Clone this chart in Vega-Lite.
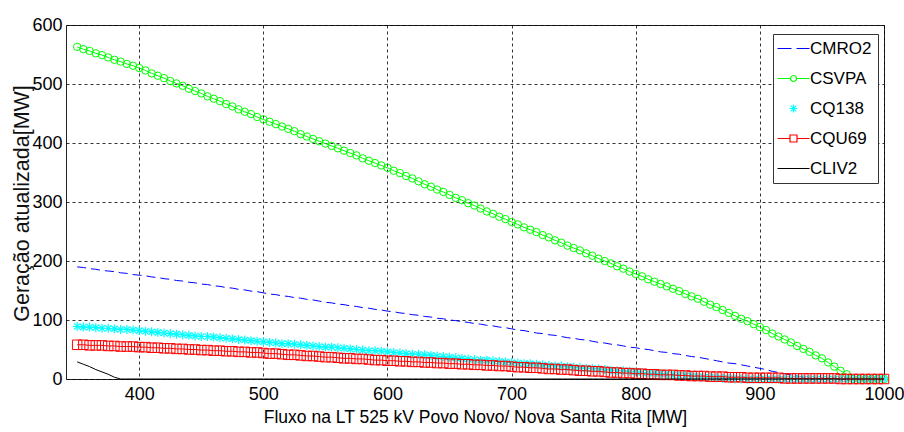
{
"$schema": "https://vega.github.io/schema/vega-lite/v6.json",
"width": 818, "height": 354,
"autosize": "none",
"padding": {"left": 66, "top": 25, "right": 20, "bottom": 53},
"background": "white",
"config": {"view": {"stroke": "#222", "strokeWidth": 1}},
"data": {"values": [
{"x":350,"CMRO2":190,"CSVPA":563,"CQ138":89,"CQU69":58,"CLIV2":29},
{"x":355,"CMRO2":189,"CSVPA":559,"CQ138":88,"CQU69":58,"CLIV2":25},
{"x":360,"CMRO2":187,"CSVPA":556,"CQ138":88,"CQU69":57,"CLIV2":21},
{"x":365,"CMRO2":186,"CSVPA":552,"CQ138":87,"CQU69":57,"CLIV2":16},
{"x":370,"CMRO2":184,"CSVPA":549,"CQ138":86,"CQU69":57,"CLIV2":12},
{"x":375,"CMRO2":183,"CSVPA":545,"CQ138":86,"CQU69":56,"CLIV2":8},
{"x":380,"CMRO2":182,"CSVPA":541,"CQ138":85,"CQU69":56,"CLIV2":3},
{"x":385,"CMRO2":180,"CSVPA":538,"CQ138":84,"CQU69":55,"CLIV2":0},
{"x":390,"CMRO2":179,"CSVPA":534,"CQ138":84,"CQU69":55,"CLIV2":0},
{"x":395,"CMRO2":177,"CSVPA":531,"CQ138":83,"CQU69":55,"CLIV2":0},
{"x":400,"CMRO2":176,"CSVPA":527,"CQ138":82,"CQU69":54,"CLIV2":0},
{"x":405,"CMRO2":175,"CSVPA":523,"CQ138":81,"CQU69":54,"CLIV2":0},
{"x":410,"CMRO2":173,"CSVPA":518,"CQ138":80,"CQU69":53,"CLIV2":0},
{"x":415,"CMRO2":172,"CSVPA":514,"CQ138":79,"CQU69":53,"CLIV2":0},
{"x":420,"CMRO2":170,"CSVPA":510,"CQ138":78,"CQU69":52,"CLIV2":0},
{"x":425,"CMRO2":169,"CSVPA":505,"CQ138":77,"CQU69":52,"CLIV2":0},
{"x":430,"CMRO2":167,"CSVPA":501,"CQ138":76,"CQU69":51,"CLIV2":0},
{"x":435,"CMRO2":166,"CSVPA":497,"CQ138":75,"CQU69":51,"CLIV2":0},
{"x":440,"CMRO2":164,"CSVPA":492,"CQ138":74,"CQU69":50,"CLIV2":0},
{"x":445,"CMRO2":163,"CSVPA":488,"CQ138":73,"CQU69":50,"CLIV2":0},
{"x":450,"CMRO2":161,"CSVPA":484,"CQ138":72,"CQU69":49,"CLIV2":0},
{"x":455,"CMRO2":160,"CSVPA":479,"CQ138":72,"CQU69":49,"CLIV2":0},
{"x":460,"CMRO2":158,"CSVPA":475,"CQ138":71,"CQU69":48,"CLIV2":0},
{"x":465,"CMRO2":157,"CSVPA":471,"CQ138":70,"CQU69":48,"CLIV2":0},
{"x":470,"CMRO2":155,"CSVPA":466,"CQ138":69,"CQU69":47,"CLIV2":0},
{"x":475,"CMRO2":154,"CSVPA":462,"CQ138":68,"CQU69":47,"CLIV2":0},
{"x":480,"CMRO2":152,"CSVPA":457,"CQ138":67,"CQU69":46,"CLIV2":0},
{"x":485,"CMRO2":151,"CSVPA":453,"CQ138":66,"CQU69":46,"CLIV2":0},
{"x":490,"CMRO2":149,"CSVPA":449,"CQ138":65,"CQU69":45,"CLIV2":0},
{"x":495,"CMRO2":148,"CSVPA":444,"CQ138":64,"CQU69":45,"CLIV2":0},
{"x":500,"CMRO2":146,"CSVPA":440,"CQ138":63,"CQU69":44,"CLIV2":0},
{"x":505,"CMRO2":144,"CSVPA":436,"CQ138":62,"CQU69":43,"CLIV2":0},
{"x":510,"CMRO2":143,"CSVPA":432,"CQ138":61,"CQU69":43,"CLIV2":0},
{"x":515,"CMRO2":141,"CSVPA":428,"CQ138":60,"CQU69":42,"CLIV2":0},
{"x":520,"CMRO2":140,"CSVPA":424,"CQ138":60,"CQU69":41,"CLIV2":0},
{"x":525,"CMRO2":138,"CSVPA":420,"CQ138":59,"CQU69":41,"CLIV2":0},
{"x":530,"CMRO2":137,"CSVPA":415,"CQ138":58,"CQU69":40,"CLIV2":0},
{"x":535,"CMRO2":135,"CSVPA":411,"CQ138":57,"CQU69":39,"CLIV2":0},
{"x":540,"CMRO2":134,"CSVPA":407,"CQ138":56,"CQU69":39,"CLIV2":0},
{"x":545,"CMRO2":132,"CSVPA":403,"CQ138":55,"CQU69":38,"CLIV2":0},
{"x":550,"CMRO2":130,"CSVPA":399,"CQ138":54,"CQU69":37,"CLIV2":0},
{"x":555,"CMRO2":129,"CSVPA":395,"CQ138":54,"CQU69":37,"CLIV2":0},
{"x":560,"CMRO2":127,"CSVPA":391,"CQ138":53,"CQU69":36,"CLIV2":0},
{"x":565,"CMRO2":126,"CSVPA":387,"CQ138":52,"CQU69":35,"CLIV2":0},
{"x":570,"CMRO2":124,"CSVPA":383,"CQ138":51,"CQU69":35,"CLIV2":0},
{"x":575,"CMRO2":123,"CSVPA":379,"CQ138":50,"CQU69":34,"CLIV2":0},
{"x":580,"CMRO2":121,"CSVPA":374,"CQ138":49,"CQU69":34,"CLIV2":0},
{"x":585,"CMRO2":120,"CSVPA":370,"CQ138":48,"CQU69":33,"CLIV2":0},
{"x":590,"CMRO2":118,"CSVPA":366,"CQ138":48,"CQU69":32,"CLIV2":0},
{"x":595,"CMRO2":117,"CSVPA":362,"CQ138":47,"CQU69":32,"CLIV2":0},
{"x":600,"CMRO2":115,"CSVPA":358,"CQ138":46,"CQU69":31,"CLIV2":0},
{"x":605,"CMRO2":114,"CSVPA":353,"CQ138":45,"CQU69":31,"CLIV2":0},
{"x":610,"CMRO2":112,"CSVPA":349,"CQ138":44,"CQU69":30,"CLIV2":0},
{"x":615,"CMRO2":111,"CSVPA":344,"CQ138":43,"CQU69":30,"CLIV2":0},
{"x":620,"CMRO2":109,"CSVPA":340,"CQ138":42,"CQU69":29,"CLIV2":0},
{"x":625,"CMRO2":108,"CSVPA":335,"CQ138":42,"CQU69":29,"CLIV2":0},
{"x":630,"CMRO2":106,"CSVPA":330,"CQ138":41,"CQU69":28,"CLIV2":0},
{"x":635,"CMRO2":105,"CSVPA":326,"CQ138":40,"CQU69":28,"CLIV2":0},
{"x":640,"CMRO2":103,"CSVPA":321,"CQ138":39,"CQU69":27,"CLIV2":0},
{"x":645,"CMRO2":102,"CSVPA":317,"CQ138":38,"CQU69":27,"CLIV2":0},
{"x":650,"CMRO2":100,"CSVPA":312,"CQ138":37,"CQU69":26,"CLIV2":0},
{"x":655,"CMRO2":99,"CSVPA":307,"CQ138":36,"CQU69":26,"CLIV2":0},
{"x":660,"CMRO2":97,"CSVPA":303,"CQ138":35,"CQU69":25,"CLIV2":0},
{"x":665,"CMRO2":96,"CSVPA":298,"CQ138":34,"CQU69":25,"CLIV2":0},
{"x":670,"CMRO2":94,"CSVPA":294,"CQ138":33,"CQU69":24,"CLIV2":0},
{"x":675,"CMRO2":93,"CSVPA":289,"CQ138":32,"CQU69":24,"CLIV2":0},
{"x":680,"CMRO2":91,"CSVPA":284,"CQ138":32,"CQU69":23,"CLIV2":0},
{"x":685,"CMRO2":90,"CSVPA":280,"CQ138":31,"CQU69":23,"CLIV2":0},
{"x":690,"CMRO2":88,"CSVPA":275,"CQ138":30,"CQU69":22,"CLIV2":0},
{"x":695,"CMRO2":87,"CSVPA":271,"CQ138":29,"CQU69":22,"CLIV2":0},
{"x":700,"CMRO2":85,"CSVPA":266,"CQ138":28,"CQU69":21,"CLIV2":0},
{"x":705,"CMRO2":83,"CSVPA":262,"CQ138":27,"CQU69":20,"CLIV2":0},
{"x":710,"CMRO2":82,"CSVPA":257,"CQ138":26,"CQU69":20,"CLIV2":0},
{"x":715,"CMRO2":80,"CSVPA":253,"CQ138":26,"CQU69":19,"CLIV2":0},
{"x":720,"CMRO2":78,"CSVPA":249,"CQ138":25,"CQU69":19,"CLIV2":0},
{"x":725,"CMRO2":77,"CSVPA":244,"CQ138":24,"CQU69":18,"CLIV2":0},
{"x":730,"CMRO2":75,"CSVPA":240,"CQ138":23,"CQU69":17,"CLIV2":0},
{"x":735,"CMRO2":74,"CSVPA":235,"CQ138":22,"CQU69":17,"CLIV2":0},
{"x":740,"CMRO2":72,"CSVPA":231,"CQ138":22,"CQU69":16,"CLIV2":0},
{"x":745,"CMRO2":70,"CSVPA":226,"CQ138":21,"CQU69":16,"CLIV2":0},
{"x":750,"CMRO2":69,"CSVPA":222,"CQ138":20,"CQU69":15,"CLIV2":0},
{"x":755,"CMRO2":67,"CSVPA":218,"CQ138":19,"CQU69":14,"CLIV2":0},
{"x":760,"CMRO2":66,"CSVPA":213,"CQ138":18,"CQU69":14,"CLIV2":0},
{"x":765,"CMRO2":64,"CSVPA":209,"CQ138":18,"CQU69":13,"CLIV2":0},
{"x":770,"CMRO2":62,"CSVPA":204,"CQ138":17,"CQU69":13,"CLIV2":0},
{"x":775,"CMRO2":61,"CSVPA":200,"CQ138":16,"CQU69":12,"CLIV2":0},
{"x":780,"CMRO2":59,"CSVPA":196,"CQ138":15,"CQU69":11,"CLIV2":0},
{"x":785,"CMRO2":58,"CSVPA":191,"CQ138":14,"CQU69":11,"CLIV2":0},
{"x":790,"CMRO2":56,"CSVPA":187,"CQ138":14,"CQU69":10,"CLIV2":0},
{"x":795,"CMRO2":54,"CSVPA":182,"CQ138":13,"CQU69":10,"CLIV2":0},
{"x":800,"CMRO2":53,"CSVPA":178,"CQ138":12,"CQU69":9,"CLIV2":0},
{"x":805,"CMRO2":51,"CSVPA":174,"CQ138":11,"CQU69":9,"CLIV2":0},
{"x":810,"CMRO2":50,"CSVPA":169,"CQ138":10,"CQU69":8,"CLIV2":0},
{"x":815,"CMRO2":48,"CSVPA":165,"CQ138":10,"CQU69":8,"CLIV2":0},
{"x":820,"CMRO2":46,"CSVPA":161,"CQ138":9,"CQU69":7,"CLIV2":0},
{"x":825,"CMRO2":45,"CSVPA":157,"CQ138":8,"CQU69":7,"CLIV2":0},
{"x":830,"CMRO2":43,"CSVPA":153,"CQ138":7,"CQU69":7,"CLIV2":0},
{"x":835,"CMRO2":42,"CSVPA":149,"CQ138":6,"CQU69":6,"CLIV2":0},
{"x":840,"CMRO2":40,"CSVPA":144,"CQ138":6,"CQU69":6,"CLIV2":0},
{"x":845,"CMRO2":38,"CSVPA":140,"CQ138":5,"CQU69":5,"CLIV2":0},
{"x":850,"CMRO2":37,"CSVPA":136,"CQ138":4,"CQU69":5,"CLIV2":0},
{"x":855,"CMRO2":35,"CSVPA":131,"CQ138":3,"CQU69":5,"CLIV2":0},
{"x":860,"CMRO2":33,"CSVPA":126,"CQ138":3,"CQU69":4,"CLIV2":0},
{"x":865,"CMRO2":31,"CSVPA":122,"CQ138":2,"CQU69":4,"CLIV2":0},
{"x":870,"CMRO2":29,"CSVPA":117,"CQ138":1,"CQU69":4,"CLIV2":0},
{"x":875,"CMRO2":27,"CSVPA":112,"CQ138":1,"CQU69":3,"CLIV2":0},
{"x":880,"CMRO2":26,"CSVPA":107,"CQ138":0,"CQU69":3,"CLIV2":0},
{"x":885,"CMRO2":24,"CSVPA":102,"CQ138":0,"CQU69":3,"CLIV2":0},
{"x":890,"CMRO2":22,"CSVPA":98,"CQ138":0,"CQU69":2,"CLIV2":0},
{"x":895,"CMRO2":20,"CSVPA":93,"CQ138":0,"CQU69":2,"CLIV2":0},
{"x":900,"CMRO2":18,"CSVPA":88,"CQ138":0,"CQU69":2,"CLIV2":0},
{"x":905,"CMRO2":16,"CSVPA":83,"CQ138":0,"CQU69":2,"CLIV2":0},
{"x":910,"CMRO2":13,"CSVPA":77,"CQ138":0,"CQU69":2,"CLIV2":0},
{"x":915,"CMRO2":11,"CSVPA":72,"CQ138":0,"CQU69":2,"CLIV2":0},
{"x":920,"CMRO2":9,"CSVPA":67,"CQ138":0,"CQU69":1,"CLIV2":0},
{"x":925,"CMRO2":7,"CSVPA":62,"CQ138":0,"CQU69":1,"CLIV2":0},
{"x":930,"CMRO2":5,"CSVPA":56,"CQ138":0,"CQU69":1,"CLIV2":0},
{"x":935,"CMRO2":3,"CSVPA":51,"CQ138":0,"CQU69":1,"CLIV2":0},
{"x":940,"CMRO2":0,"CSVPA":46,"CQ138":0,"CQU69":1,"CLIV2":0},
{"x":945,"CMRO2":0,"CSVPA":40,"CQ138":0,"CQU69":1,"CLIV2":0},
{"x":950,"CMRO2":0,"CSVPA":35,"CQ138":0,"CQU69":1,"CLIV2":0},
{"x":955,"CMRO2":0,"CSVPA":28,"CQ138":0,"CQU69":1,"CLIV2":0},
{"x":960,"CMRO2":0,"CSVPA":21,"CQ138":0,"CQU69":1,"CLIV2":0},
{"x":965,"CMRO2":0,"CSVPA":14,"CQ138":0,"CQU69":0,"CLIV2":0},
{"x":970,"CMRO2":0,"CSVPA":8,"CQ138":0,"CQU69":0,"CLIV2":0},
{"x":975,"CMRO2":0,"CSVPA":0,"CQ138":0,"CQU69":0,"CLIV2":0},
{"x":980,"CMRO2":0,"CSVPA":0,"CQ138":0,"CQU69":0,"CLIV2":0},
{"x":985,"CMRO2":0,"CSVPA":0,"CQ138":0,"CQU69":0,"CLIV2":0},
{"x":990,"CMRO2":0,"CSVPA":0,"CQ138":0,"CQU69":0,"CLIV2":0},
{"x":995,"CMRO2":0,"CSVPA":0,"CQ138":0,"CQU69":0,"CLIV2":0},
{"x":1000,"CMRO2":0,"CSVPA":0,"CQ138":0,"CQU69":0,"CLIV2":0}
]},
"transform": [{"fold": ["CMRO2", "CSVPA", "CQ138", "CQU69", "CLIV2"], "as": ["serie", "valor"]}],
"encoding": {
  "x": {"field": "x", "type": "quantitative",
    "scale": {"domain": [341, 1000], "nice": false, "zero": false},
    "axis": {"values": [400, 500, 600, 700, 800, 900, 1000], "format": "d", "title": "Fluxo na LT 525 kV Povo Novo/ Nova Santa Rita [MW]",
      "labelFont": "Liberation Sans", "labelFontSize": 18, "labelColor": "#000", "labelPadding": 6, "labelFlush": false,
      "ticks": false, "domain": false, "grid": true, "gridDash": [3, 3], "gridColor": "#000", "gridOpacity": 0.8, "gridWidth": 1,
      "titleFont": "Liberation Sans", "titleFontSize": 17.5, "titleFontWeight": "normal", "titleColor": "#000",
      "titleY": 43, "titleBaseline": "alphabetic"}},
  "y": {"field": "valor", "type": "quantitative",
    "scale": {"domain": [0, 600], "nice": false},
    "axis": {"values": [0, 100, 200, 300, 400, 500, 600], "format": "d", "title": "Geração atualizada[MW]",
      "labelFont": "Liberation Sans", "labelFontSize": 18, "labelColor": "#000", "labelPadding": 4,
      "ticks": false, "domain": false, "grid": true, "gridDash": [3, 3], "gridColor": "#000", "gridOpacity": 0.8, "gridWidth": 1,
      "titleFont": "Liberation Sans", "titleFontSize": 21.5, "titleFontWeight": "normal", "titleColor": "#111",
      "titleX": -38, "titleY": 178, "titleBaseline": "alphabetic", "titleAlign": "center"}}
},
"layer": [
  {"transform": [{"filter": "datum.serie == 'CMRO2'"}],
   "mark": {"type": "line", "color": "#0000ff", "strokeWidth": 1, "strokeDash": [9, 5]}},
  {"transform": [{"filter": "datum.serie == 'CSVPA'"}],
   "mark": {"type": "line", "color": "#00ff00", "strokeWidth": 1}},
  {"transform": [{"filter": "datum.serie == 'CSVPA'"}],
   "mark": {"type": "point", "shape": "circle", "filled": false, "size": 55, "strokeWidth": 1, "color": "#00ff00", "opacity": 1}},
  {"transform": [{"filter": "datum.serie == 'CQ138'"}],
   "mark": {"type": "point", "shape": "M-1,0L1,0M0,-1L0,1M-0.7,-0.7L0.7,0.7M-0.7,0.7L0.7,-0.7", "filled": false, "size": 80, "strokeWidth": 1.2, "color": "#00ffff", "opacity": 1}},
  {"transform": [{"filter": "datum.serie == 'CQU69'"}],
   "mark": {"type": "line", "color": "#ff0000", "strokeWidth": 1}},
  {"transform": [{"filter": "datum.serie == 'CQU69'"}],
   "mark": {"type": "point", "shape": "square", "filled": false, "size": 90, "strokeWidth": 1, "color": "#ff0000", "opacity": 1}},
  {"transform": [{"filter": "datum.serie == 'CLIV2'"}],
   "mark": {"type": "line", "color": "#000000", "strokeWidth": 1}},
  {"transform": [{"filter": "false"}],
   "mark": {"type": "point", "filled": false, "opacity": 1, "strokeWidth": 1.2},
   "encoding": {
     "color": {"field": "serie", "type": "nominal",
       "scale": {"domain": ["CMRO2", "CSVPA", "CQ138", "CQU69", "CLIV2"], "range": ["#0000ff", "#00ff00", "#00ffff", "#ff0000", "#000000"]},
       "legend": {"orient": "none", "legendX": 707, "legendY": 9, "title": null,
         "labelFont": "Liberation Sans", "labelFontSize": 17, "labelColor": "#000", "labelOffset": 8,
         "symbolSize": 100, "symbolOffset": 6, "symbolStrokeWidth": 1.2, "symbolOpacity": 1,
         "rowPadding": 12, "padding": 6, "strokeColor": "#333", "fillColor": "white"}},
     "shape": {"field": "serie", "type": "nominal",
       "scale": {"domain": ["CMRO2", "CSVPA", "CQ138", "CQU69", "CLIV2"],
         "range": ["M-3.2,0L-0.4,0M0.6,0L3.2,0",
                   "M-3.2,0L-0.6,0M0.6,0L3.2,0M0.6,0A0.6,0.6,0,1,1,-0.6,0A0.6,0.6,0,1,1,0.6,0",
                   "M-0.8,0L0.8,0M0,-0.8L0,0.8M-0.56,-0.56L0.56,0.56M-0.56,0.56L0.56,-0.56",
                   "M-3.2,0L-0.7,0M0.7,0L3.2,0M-0.7,-0.7L0.7,-0.7L0.7,0.7L-0.7,0.7Z",
                   "M-3.2,0L3.2,0"]},
       "legend": {"orient": "none", "legendX": 707, "legendY": 9, "title": null,
         "labelFont": "Liberation Sans", "labelFontSize": 17, "labelColor": "#000", "labelOffset": 8,
         "symbolSize": 100, "symbolOffset": 6, "symbolStrokeWidth": 1.2, "symbolOpacity": 1,
         "rowPadding": 12, "padding": 6, "strokeColor": "#333", "fillColor": "white"}}
   }}
]
}
